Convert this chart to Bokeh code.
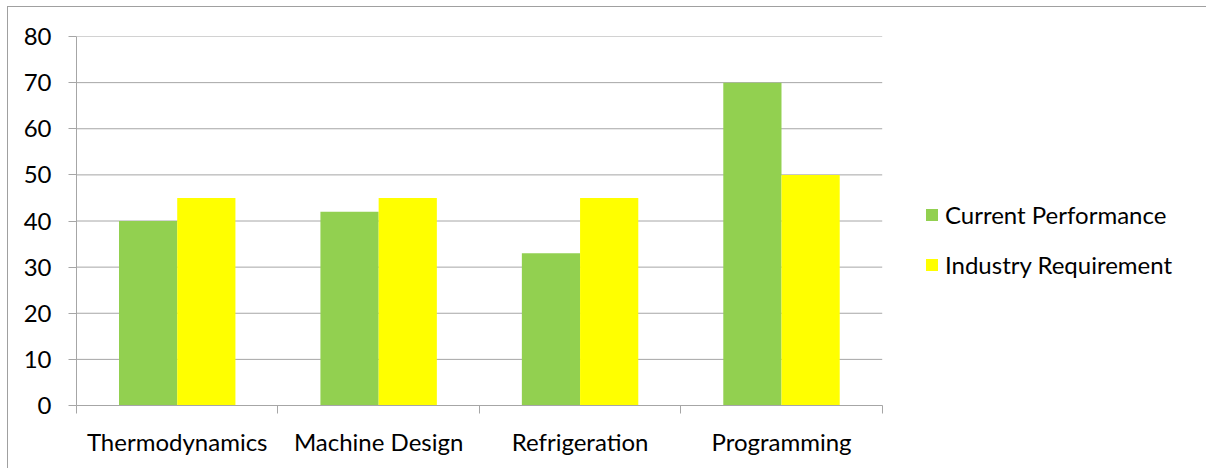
from bokeh.plotting import figure
from bokeh.models import FixedTicker, Legend, LegendItem, ColumnDataSource, Range1d
from bokeh.embed import file_html
from bokeh.resources import INLINE

categories = ["Thermodynamics", "Machine Design", "Refrigeration", "Programming"]
current = [40, 42, 33, 70]
required = [45, 45, 45, 50]
series_names = ["Current Performance", "Industry Requirement"]
y_ticks = [0, 10, 20, 30, 40, 50, 60, 70, 80]

FONT = "Lato"
FS = "24px"
GRID = "#a6a6a6"

n = len(categories)
# frame extends to the right edge so the legend can sit beside the bars;
# the category axis itself only spans 0..n
x_end = n * (1198 - 68) / 805.0

p = figure(width=1199, height=462, output_backend="svg", toolbar_location=None,
           x_range=Range1d(0, x_end), y_range=Range1d(0, 80),
           min_border_left=68, min_border_right=0, min_border_top=29, min_border_bottom=64)
p.styles = {"border-left": "1px solid #a0a0a0", "border-top": "1px solid #a0a0a0",
            "box-sizing": "border-box", "margin-left": "7px", "margin-top": "6px"}
p.outline_line_color = None
p.background_fill_color = "white"
p.border_fill_color = "white"

# horizontal gridlines limited to the category span
p.xgrid.grid_line_color = None
p.ygrid.grid_line_color = None
p.segment(x0=[0] * len(y_ticks), x1=[n] * len(y_ticks), y0=y_ticks, y1=y_ticks,
          line_color=GRID, line_width=1)

centers = [i + 0.5 for i in range(n)]
w = 0.289
src = ColumnDataSource(dict(
    xc=[c - w / 2 for c in centers], xr=[c + w / 2 for c in centers],
    cur=current, req=required))

r1 = p.vbar(x="xc", top="cur", width=w, bottom=0, source=src, fill_color="#92d050", line_color=None)
r2 = p.vbar(x="xr", top="req", width=w, bottom=0, source=src, fill_color="#ffff00", line_color=None)

# axes
p.yaxis.ticker = FixedTicker(ticks=y_ticks)
p.yaxis.axis_line_color = GRID
p.yaxis.major_tick_line_color = GRID
p.yaxis.major_tick_out = 8
p.yaxis.major_tick_in = 0
p.yaxis.minor_tick_line_color = None
p.yaxis.major_label_standoff = 17
p.yaxis.major_label_text_font = FONT
p.yaxis.major_label_text_font_size = FS
p.yaxis.major_label_text_color = "#000000"

p.xaxis.bounds = (0, n)
p.xaxis.ticker = FixedTicker(ticks=centers, minor_ticks=list(range(n + 1)))
p.xaxis.major_label_overrides = {c: cat for c, cat in zip(centers, categories)}
p.xaxis.axis_line_color = GRID
p.xaxis.major_tick_line_color = None
p.xaxis.major_tick_out = 0
p.xaxis.major_tick_in = 0
p.xaxis.minor_tick_line_color = GRID
p.xaxis.minor_tick_out = 8
p.xaxis.minor_tick_in = 0
p.xaxis.major_label_standoff = 13
p.xaxis.major_label_text_font = FONT
p.xaxis.major_label_text_font_size = FS
p.xaxis.major_label_text_color = "#000000"

legend = Legend(items=[LegendItem(label=series_names[0], renderers=[r1]),
                       LegendItem(label=series_names[1], renderers=[r2])],
                location=(848, 126), orientation="vertical",
                glyph_width=15, glyph_height=15, label_height=20, spacing=21,
                label_standoff=6, padding=0, margin=0,
                label_text_font=FONT, label_text_font_size=FS, label_text_color="#000000",
                border_line_color=None, background_fill_alpha=0)
p.add_layout(legend, "center")

open("out.html", "w").write(file_html(p, INLINE))
